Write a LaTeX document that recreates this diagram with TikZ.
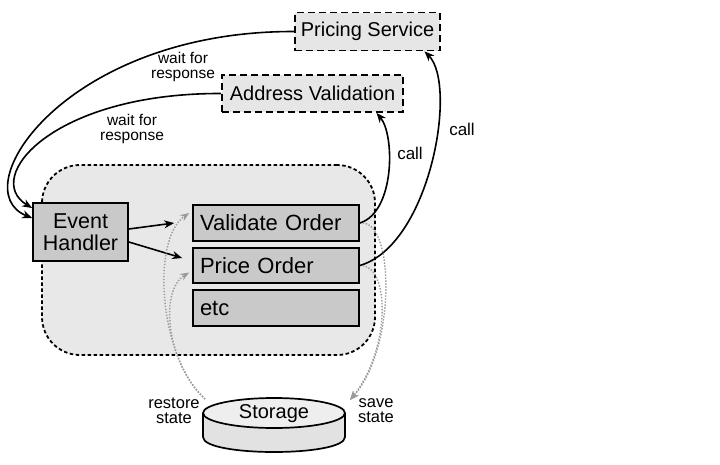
\documentclass[tikz,border=0pt]{standalone}
\usepackage{fontspec}
\setmainfont{Liberation Sans}
\usetikzlibrary{arrows.meta,calc}
\definecolor{svcfill}{HTML}{E6E6E6}
\definecolor{ctrfill}{HTML}{E8E8E8}
\definecolor{boxfill}{HTML}{C9C9C9}
\definecolor{stfill}{HTML}{E2E2E2}
\definecolor{dotgray}{HTML}{9A9A9A}
\begin{document}
\begin{tikzpicture}[x=1pt,y=-1pt,
  svc/.style={draw, line width=1.7pt, dash pattern=on 7pt off 4pt, fill=svcfill,
    minimum width=145pt, minimum height=38pt, inner sep=0pt,
    font=\fontsize{20}{22}\selectfont},
  ctr/.style={draw, line width=1.8pt, dash pattern=on 3.5pt off 2.5pt, fill=ctrfill,
    rounded corners=38pt, minimum width=333pt, minimum height=190pt},
  ehbox/.style={draw, line width=1.7pt, fill=boxfill, minimum width=95pt,
    minimum height=58pt, align=center, inner sep=0pt,
    font=\fontsize{21.5}{22.5}\selectfont},
  ibox/.style={draw, line width=1.7pt, fill=boxfill, minimum width=166pt,
    minimum height=35pt, text width=152pt, inner xsep=7pt, inner ysep=0pt,
    align=left, font=\fontsize{22}{24}\selectfont},
  lbl/.style={align=center, inner sep=0pt, font=\fontsize{15.5}{15}\selectfont},
  arr/.style={line width=1.6pt, -{Stealth[length=10pt,width=8pt]}},
  dotarr/.style={line width=1.4pt, dotgray, dash pattern=on 1.4pt off 1.6pt,
    -{Stealth[length=9pt,width=7pt,fill=dotgray]}},
]
\useasboundingbox[fill=white] (0,0) rectangle (720,464);

% container
\node[ctr] (ctr) at (208.5,260) {};

% services
\node[svc] (ps) at (367.5,31.5) {Pricing Service};
\node[svc, minimum width=181pt, minimum height=37pt] (av) at (312.5,93.5) {Address Validation};

% inner boxes
\node[ehbox] (eh) at (80.5,232) {Event\\Handler};
\node[ibox, minimum height=36pt] (vo) at (276,223) {Validate Order};
\node[ibox] (po) at (276,265.5) {Price Order};
\node[ibox, minimum height=36pt] (etc) at (276,308) {etc};

% storage cylinder
\fill[stfill] (203,413) -- (203,437) .. controls (203,457) and (345,457) .. (345,437) -- (345,413) -- cycle;
\draw[line width=1.7pt] (203,413) -- (203,437) .. controls (203,457) and (345,457) .. (345,437) -- (345,413);
\draw[line width=1.7pt, fill=stfill!60!white] (274,413) ellipse [x radius=71, y radius=15];
\node[inner sep=0pt, font=\fontsize{20}{22}\selectfont] (st) at (274,414) {Storage};

% wait for response connectors
\draw[arr] (ps.west) .. controls (65,31) and (-38,190) .. ([yshift=14pt]eh.west);
\draw[arr] (av.west) .. controls (52,93) and (-18,178) .. ([yshift=24pt]eh.west);
\node[lbl] (w1) at (183,67) {wait for\\response};
\node[lbl] (w2) at (132,129) {wait for\\response};

% event handler to steps
\draw[arr] ([yshift=3pt]eh.east) -- ([xshift=-18pt]vo.west);
\draw[arr] ([yshift=-10pt]eh.east) -- ([xshift=-10pt,yshift=7.5pt]po.west);

% calls
\draw[arr] (vo.east) .. controls (395,212) and (395,135) .. ([xshift=64pt]av.south);
\draw[arr] (po.east) .. controls (430,245) and (458,85) .. ([xshift=57pt]ps.south);
\node[lbl, font=\fontsize{17}{16}\selectfont] (c1) at (410,153) {call};
\node[lbl, font=\fontsize{17}{16}\selectfont] (c2) at (462,129) {call};

% restore / save state
\draw[dotarr] ($(st)+(-69,-15)$) .. controls (160,360) and (150,240) .. ([xshift=-3pt,yshift=10pt]vo.west);
\draw[dotarr] ($(st)+(-69,-15)$) .. controls (165,360) and (160,290) .. ([xshift=-3pt,yshift=-7pt]po.west);
\draw[dotarr] ([xshift=3pt]vo.east) .. controls (395,225) and (395,350) .. ($(st)+(76,-14)$);
\draw[dotarr] ([xshift=3pt]po.east) .. controls (390,270) and (390,350) .. ($(st)+(76,-14)$);
\node[lbl, font=\fontsize{16.5}{15}\selectfont] (rs) at (174,411) {restore\\state};
\node[lbl, font=\fontsize{16.5}{15}\selectfont] (ss) at (376,411) {save\\state};
\end{tikzpicture}
\end{document}
